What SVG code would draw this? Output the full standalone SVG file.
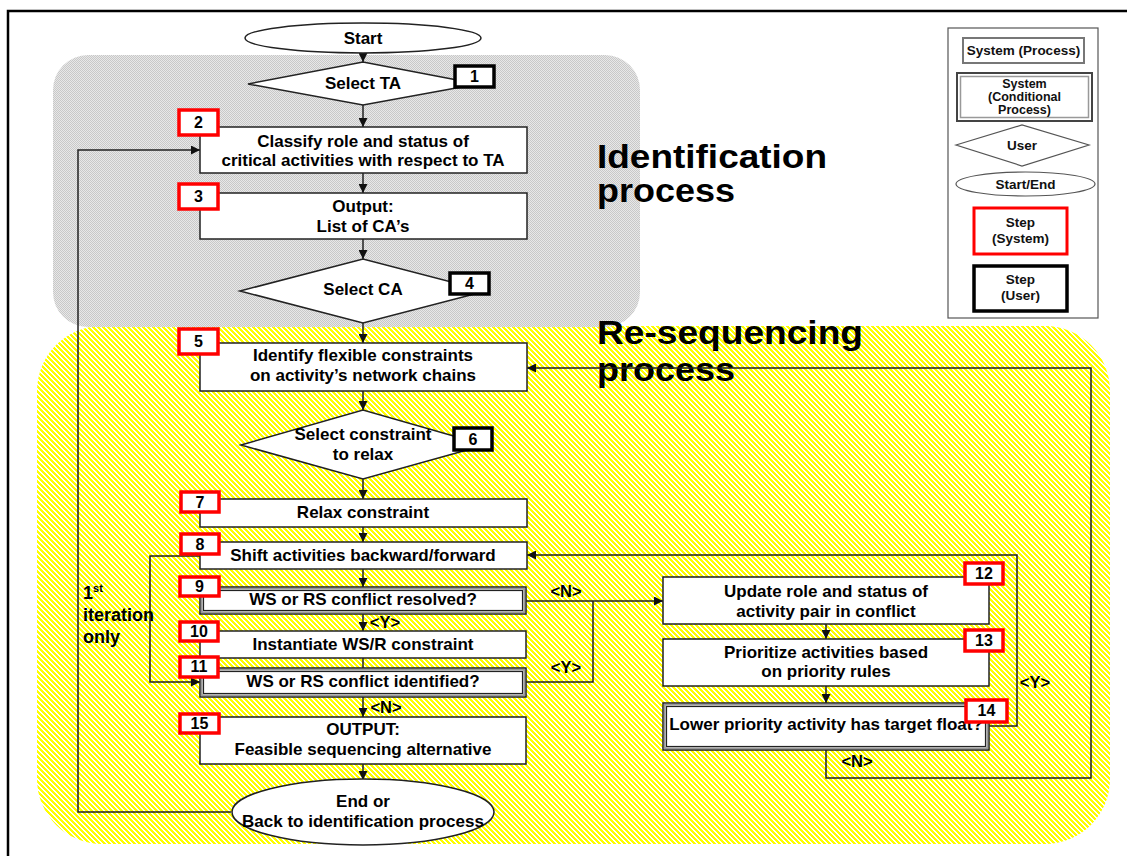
<svg xmlns="http://www.w3.org/2000/svg" width="1127" height="856" viewBox="0 0 1127 856">
  <style>
    .t { font-family: "Liberation Sans", Arial, sans-serif; font-weight: bold; font-size: 17px; text-anchor: middle; fill: #000; }
    .lbl { font-family: "Liberation Sans", Arial, sans-serif; font-weight: bold; font-size: 16.5px; text-anchor: middle; fill: #000; }
    .side { font-family: "Liberation Sans", Arial, sans-serif; font-weight: bold; font-size: 18px; text-anchor: start; fill: #000; }
    .num { font-family: "Liberation Sans", Arial, sans-serif; font-weight: bold; font-size: 16px; text-anchor: middle; fill: #000; }
    .lg { font-family: "Liberation Sans", Arial, sans-serif; font-weight: bold; font-size: 13.5px; text-anchor: middle; fill: #111; }
    .lgs { font-family: "Liberation Sans", Arial, sans-serif; font-weight: bold; font-size: 12.5px; text-anchor: middle; fill: #111; }
    .big { font-family: "Liberation Sans", Arial, sans-serif; font-weight: bold; font-size: 33px; fill: #000; }
    .box { fill: #fff; stroke: #222; stroke-width: 1.5; }
    .inner { fill: none; stroke: #222; stroke-width: 1.2; }
    .band { fill: none; stroke: #999; stroke-width: 1.6; }
    .red { fill: #fff; stroke: #f00; stroke-width: 3.5; }
    .blk { fill: #fff; stroke: #000; stroke-width: 3.5; }
    .con { fill: none; stroke: #222; stroke-width: 1.5; }
    .arr { marker-end: url(#ah); }
  </style>
  <defs>
    <marker id="ah" viewBox="0 0 10 10" refX="10" refY="5" markerWidth="9" markerHeight="9" markerUnits="userSpaceOnUse" orient="auto">
      <path d="M0,0 L10,5 L0,10 z" fill="#111"/>
    </marker>
    <!-- yellow diagonal hatching: 3 px yellow, 2 px white per 5 px -->
    <pattern id="hatch" width="5" height="5" patternUnits="userSpaceOnUse">
      <rect width="5" height="5" fill="#fff"/>
      <path d="M0,0h3v1h-3z M1,1h3v1h-3z M2,2h3v1h-3z M3,3h2v1h-2z M0,3h1v1h-1z M4,4h1v1h-1z M0,4h2v1h-2z" fill="#ff0"/>
    </pattern>
    <!-- grey stipple -->
    <pattern id="stip" width="2" height="2" patternUnits="userSpaceOnUse">
      <rect width="2" height="2" fill="#e8e8e8"/>
      <rect width="1" height="1" fill="#c8c8c8"/>
      <rect x="1" y="1" width="1" height="1" fill="#c8c8c8"/>
    </pattern>
  </defs>

  <rect width="1127" height="856" fill="#fff"/>
  <path d="M8,856 V11 H1127" fill="none" stroke="#000" stroke-width="2.5"/>

  <!-- process regions -->
  <g id="regions">
    <rect x="37" y="326" width="1073" height="518" rx="65" fill="url(#hatch)"/>
    <rect x="53" y="55" width="587" height="272" rx="35" fill="url(#stip)"/>
    <text class="big" x="597" y="168" textLength="230" lengthAdjust="spacingAndGlyphs">Identification</text>
    <text class="big" x="597" y="202" textLength="138" lengthAdjust="spacingAndGlyphs">process</text>
    <text class="big" x="597" y="344" textLength="266" lengthAdjust="spacingAndGlyphs">Re-sequencing</text>
    <text class="big" x="597" y="381" textLength="138" lengthAdjust="spacingAndGlyphs">process</text>
  </g>

  <!-- connectors -->
  <g id="connectors">
    <line class="con arr" x1="363" y1="53" x2="363" y2="62"/>
    <line class="con arr" x1="363" y1="105" x2="363" y2="127"/>
    <line class="con arr" x1="363" y1="173" x2="363" y2="193"/>
    <line class="con arr" x1="363" y1="239" x2="363" y2="259"/>
    <line class="con arr" x1="363" y1="323" x2="363" y2="343"/>
    <line class="con arr" x1="363" y1="391" x2="363" y2="410"/>
    <line class="con arr" x1="363" y1="479" x2="363" y2="499"/>
    <line class="con arr" x1="363" y1="527" x2="363" y2="542"/>
    <line class="con arr" x1="363" y1="569" x2="363" y2="587"/>
    <line class="con arr" x1="363" y1="614" x2="363" y2="631"/>
    <line class="con" x1="363" y1="658" x2="363" y2="668"/>
    <line class="con arr" x1="363" y1="697" x2="363" y2="717"/>
    <line class="con arr" x1="363" y1="764" x2="363" y2="780"/>
    <polyline class="con arr" points="231,812 78,812 78,150 200,150"/>
    <polyline class="con arr" points="200,556 150,556 150,682 200,682"/>
    <line class="con arr" x1="526" y1="601" x2="663" y2="601"/>
    <polyline class="con" points="526,682 593,682 593,601"/>
    <line class="con arr" x1="826" y1="624" x2="826" y2="639"/>
    <line class="con arr" x1="826" y1="686" x2="826" y2="703"/>
    <polyline class="con arr" points="989,726 1017,726 1017,555 527,555"/>
    <polyline class="con arr" points="826,750 826,778 1091,778 1091,368 527,368"/>
    <text class="lbl" x="385" y="628">&lt;Y&gt;</text>
    <text class="lbl" x="386" y="713">&lt;N&gt;</text>
    <text class="lbl" x="566" y="597">&lt;N&gt;</text>
    <text class="lbl" x="566" y="673">&lt;Y&gt;</text>
    <text class="lbl" x="1035" y="688">&lt;Y&gt;</text>
    <text class="lbl" x="857" y="767">&lt;N&gt;</text>
    <text class="side" x="83" y="599">1<tspan font-size="11" dy="-7">st</tspan></text>
    <text class="side" x="83" y="621">iteration</text>
    <text class="side" x="83" y="643">only</text>
  </g>

  <g id="start">
    <ellipse class="box" cx="363" cy="38" rx="118" ry="15"/>
    <text class="t" x="363" y="44">Start</text>
  </g>

  <g id="step1-select-ta">
    <polygon class="box" points="248,84 363,62 478,84 363,105"/>
    <text class="t" x="363" y="89">Select TA</text>
    <rect class="blk" x="455" y="66" width="39" height="21"/>
    <text class="num" x="474.5" y="82">1</text>
  </g>

  <g id="step2-classify">
    <rect class="box" x="200" y="127" width="327" height="46"/>
    <text class="t" x="363" y="147">Classify role and status of</text>
    <text class="t" x="363" y="166">critical activities with respect to TA</text>
    <rect class="red" x="179" y="110" width="39" height="25"/>
    <text class="num" x="198.5" y="128">2</text>
  </g>

  <g id="step3-output-ca">
    <rect class="box" x="200" y="193" width="327" height="46"/>
    <text class="t" x="363" y="212">Output:</text>
    <text class="t" x="363" y="232">List of CA’s</text>
    <rect class="red" x="179" y="184" width="39" height="25"/>
    <text class="num" x="198.5" y="202">3</text>
  </g>

  <g id="step4-select-ca">
    <polygon class="box" points="240,291 363,259 486,291 363,323"/>
    <text class="t" x="363" y="295">Select CA</text>
    <rect class="blk" x="450" y="273" width="39" height="21"/>
    <text class="num" x="469.5" y="289">4</text>
  </g>

  <g id="step5-identify">
    <rect class="box" x="200" y="343" width="327" height="48"/>
    <text class="t" x="363" y="361">Identify flexible constraints</text>
    <text class="t" x="363" y="381">on activity’s network chains</text>
    <rect class="red" x="179" y="329" width="39" height="25"/>
    <text class="num" x="198.5" y="347">5</text>
  </g>

  <g id="step6-select-constraint">
    <polygon class="box" points="241,445 363,410 485,445 363,479"/>
    <text class="t" x="363" y="440">Select constraint</text>
    <text class="t" x="363" y="460">to relax</text>
    <rect class="blk" x="454" y="428" width="38" height="22"/>
    <text class="num" x="473" y="445">6</text>
  </g>

  <g id="step7-relax">
    <rect class="box" x="200" y="499" width="327" height="28"/>
    <text class="t" x="363" y="518">Relax constraint</text>
    <rect class="red" x="181" y="492" width="38" height="20"/>
    <text class="num" x="200" y="508">7</text>
  </g>

  <g id="step8-shift">
    <rect class="box" x="200" y="542" width="327" height="27"/>
    <text class="t" x="363" y="561">Shift activities backward/forward</text>
    <rect class="red" x="181" y="534" width="38" height="20"/>
    <text class="num" x="200" y="550">8</text>
  </g>

  <g id="step9-resolved">
    <rect class="box" x="200" y="587" width="326" height="27"/>
    <rect class="band" x="201.8" y="588.8" width="322.4" height="23.4"/>
    <rect class="inner" x="203.5" y="590.5" width="319" height="20"/>
    <text class="t" x="363" y="605">WS or RS conflict resolved?</text>
    <rect class="red" x="180" y="577" width="39" height="19"/>
    <text class="num" x="199.5" y="592">9</text>
  </g>

  <g id="step10-instantiate">
    <rect class="box" x="200" y="631" width="326" height="27"/>
    <text class="t" x="363" y="650">Instantiate WS/R constraint</text>
    <rect class="red" x="180" y="622" width="38" height="19"/>
    <text class="num" x="199" y="637">10</text>
  </g>

  <g id="step11-identified">
    <rect class="box" x="200" y="668" width="326" height="29"/>
    <rect class="band" x="201.8" y="669.8" width="322.4" height="25.4"/>
    <rect class="inner" x="203.5" y="671.5" width="319" height="22"/>
    <text class="t" x="363" y="687">WS or RS conflict identified?</text>
    <rect class="red" x="180" y="657" width="38" height="20"/>
    <text class="num" x="199" y="672">11</text>
  </g>

  <g id="step15-output">
    <rect class="box" x="200" y="717" width="326" height="47"/>
    <text class="t" x="363" y="735">OUTPUT:</text>
    <text class="t" x="363" y="755">Feasible sequencing alternative</text>
    <rect class="red" x="180" y="714" width="39" height="19"/>
    <text class="num" x="199.5" y="729">15</text>
  </g>

  <g id="end">
    <ellipse class="box" cx="363" cy="812" rx="131" ry="33"/>
    <text class="t" x="363" y="807">End or</text>
    <text class="t" x="363" y="827">Back to identification process</text>
  </g>

  <g id="step12-update">
    <rect class="box" x="663" y="577" width="326" height="47"/>
    <text class="t" x="826" y="597">Update role and status of</text>
    <text class="t" x="826" y="617">activity pair in conflict</text>
    <rect class="red" x="965" y="563" width="38" height="21"/>
    <text class="num" x="984" y="579">12</text>
  </g>

  <g id="step13-prioritize">
    <rect class="box" x="663" y="639" width="326" height="47"/>
    <text class="t" x="826" y="658">Prioritize activities based</text>
    <text class="t" x="826" y="677">on priority rules</text>
    <rect class="red" x="965" y="630" width="38" height="21"/>
    <text class="num" x="984" y="646">13</text>
  </g>

  <g id="step14-float">
    <rect class="box" x="663" y="703" width="326" height="47"/>
    <rect class="band" x="664.8" y="704.8" width="322.4" height="43.4"/>
    <rect class="inner" x="666.5" y="706.5" width="319" height="40"/>
    <text class="t" x="826" y="730">Lower priority activity has target float?</text>
    <rect class="red" x="966" y="700" width="41" height="22"/>
    <text class="num" x="986.5" y="716">14</text>
  </g>

  <!-- legend -->
  <g id="legend">
    <rect x="948" y="28" width="150" height="290" fill="#fff" stroke="#555" stroke-width="1.2"/>
    <rect x="963" y="38" width="121" height="25" fill="#fff" stroke="#777" stroke-width="2"/>
    <text class="lg" x="1023.5" y="55">System (Process)</text>
    <rect x="957" y="73" width="135" height="48" fill="#fff" stroke="#444" stroke-width="2"/>
    <rect x="960.5" y="76.5" width="128" height="41" fill="none" stroke="#999" stroke-width="1.5"/>
    <text class="lgs" x="1024.5" y="88">System</text>
    <text class="lgs" x="1024.5" y="101">(Conditional</text>
    <text class="lgs" x="1024.5" y="114">Process)</text>
    <polygon points="956,145 1022,125 1089,145 1022,166" fill="#fff" stroke="#555" stroke-width="1.2"/>
    <text class="lg" x="1022" y="150">User</text>
    <ellipse cx="1025.5" cy="184" rx="69.5" ry="12" fill="#fff" stroke="#555" stroke-width="1.2"/>
    <text class="lg" x="1025.5" y="189">Start/End</text>
    <rect x="974" y="208" width="93" height="46" fill="#fff" stroke="#f00" stroke-width="3"/>
    <text class="lg" x="1020.5" y="227">Step</text>
    <text class="lg" x="1020.5" y="243">(System)</text>
    <rect x="974" y="266" width="93" height="45" fill="#fff" stroke="#000" stroke-width="3.5"/>
    <text class="lg" x="1020.5" y="284">Step</text>
    <text class="lg" x="1020.5" y="300">(User)</text>
  </g>
</svg>
